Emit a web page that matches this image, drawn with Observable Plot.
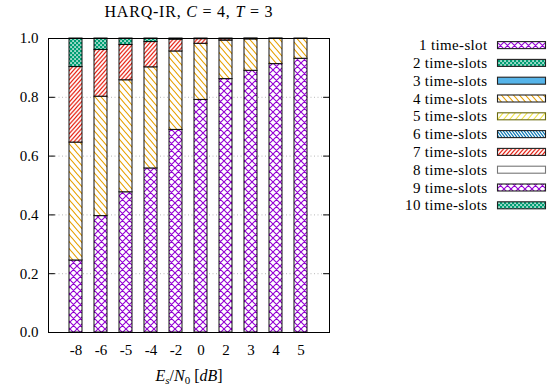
<!DOCTYPE html>
<html><head><meta charset="utf-8">
<script src="https://cdn.jsdelivr.net/npm/d3@7"></script>
<script src="https://cdn.jsdelivr.net/npm/@observablehq/plot@0.6"></script>
<style>
html,body{margin:0;padding:0;background:#fff;}
#wrap{position:relative;width:557px;height:390px;overflow:hidden;background:#fff;}
#wrap svg{position:absolute;left:0;top:0;}
</style></head>
<body><div id="wrap"></div>
<script>
// ---- data ----
const snr = ["-8","-6","-5","-4","-2","0","2","3","4","5"];
const seriesNames = ["1 time-slot","2 time-slots","3 time-slots","4 time-slots","5 time-slots",
  "6 time-slots","7 time-slots","8 time-slots","9 time-slots","10 time-slots"];
const slot1  = [0.245,0.396,0.477,0.558,0.689,0.791,0.862,0.890,0.913,0.931];
const slot2  = [0,0,0,0,0,0,0,0,0,0];
const slot3  = [0,0,0,0,0,0,0,0,0,0];
const slot4  = [0.401,0.406,0.381,0.344,0.267,0.191,0.131,0.107,0.086,0.069];
const slot5  = [0,0,0,0,0,0,0,0,0,0];
const slot6  = [0,0,0,0,0,0,0,0,0,0];
const slot7  = [0.257,0.159,0.120,0.086,0.040,0.016,0.005,0.002,0.001,0];
const slot8  = [0,0,0,0,0,0,0,0,0,0];
const slot9  = [0,0,0,0,0,0,0,0,0,0];
const slot10 = [0.097,0.039,0.022,0.012,0.004,0.002,0.002,0.001,0,0];
const yTicks = [0,0.2,0.4,0.6,0.8,1.0];

// ---- styles ----
const fills = ["url(#pXP)","url(#pCG)","#56b4e9","url(#pBO)","url(#pFY)",
  "url(#pBB)","url(#pFR)","white","url(#pXP)","url(#pCG)"];
const legendStroke = ["#222","#222","#222","#222","#6b6b10","#222","#222","#777","#222","#222"];
const FONT = "'Liberation Serif','Times New Roman',serif";

const seriesValues = [slot1,slot2,slot3,slot4,slot5,slot6,slot7,slot8,slot9,slot10];
const table = [];
snr.forEach((s, i) => seriesValues.forEach((vals, k) => {
  if (vals[i] > 0) table.push({snr: s, series: seriesNames[k], value: vals[i]});
}));

function hatch(id, w, h, color, sw, dir) {
  let d;
  if (dir === "back") d = `M${-w},${-h}L${2*w},${2*h}M${-w},0L${w},${2*h}M0,${-h}L${2*w},${h}`;
  else d = `M${-w},${2*h}L${2*w},${-h}M${-w},${h}L${w},${-h}M0,${2*h}L${2*w},0`;
  return `<pattern id="${id}" patternUnits="userSpaceOnUse" width="${w}" height="${h}">
    <rect width="${w}" height="${h}" fill="white"/>
    <path d="${d}" stroke="${color}" stroke-width="${sw}" fill="none"/></pattern>`;
}
const defs = `<svg width="0" height="0" style="position:absolute;left:0;top:0"><defs>
<pattern id="pXP" patternUnits="userSpaceOnUse" width="7" height="7">
  <rect width="7" height="7" fill="white"/>
  <path d="M-7,-7L14,14M-7,0L7,14M0,-7L14,7M-7,14L14,-7M-7,7L7,-7M0,14L14,0" stroke="#9400d3" stroke-width="1.1" fill="none"/>
</pattern>
<pattern id="pCG" patternUnits="userSpaceOnUse" width="4" height="4">
  <rect width="4" height="4" fill="#009e73"/>
  <rect x="0.3" y="0.3" width="1.5" height="1.5" fill="white"/>
  <rect x="2.3" y="2.3" width="1.5" height="1.5" fill="white"/>
</pattern>
${hatch("pBO", 6, 7, "#e69f00", 1.1, "back")}
${hatch("pFY", 6, 7, "#f0e442", 1.1, "fwd")}
${hatch("pBB", 3, 4, "#0072b2", 1.1, "back")}
${hatch("pFR", 4, 4.5, "#e51e10", 1.2, "fwd")}
</defs></svg>`;

const wrap = document.getElementById("wrap");
wrap.insertAdjacentHTML("beforeend", defs);

const tickShape = {draw(context, l) { context.moveTo(0, 0); context.lineTo(0, -l); }};
const innerTicks = yTicks.slice(1, -1);

const chart = Plot.plot({
  width: 557, height: 390,
  marginLeft: 48, marginRight: 228, marginTop: 38, marginBottom: 58,
  style: {fontFamily: FONT, fontSize: "15px", background: "transparent", color: "black"},
  x: {type: "band", domain: snr, paddingInner: 0.47, paddingOuter: 0.76},
  y: {domain: [0, 1]},
  color: {type: "ordinal", domain: seriesNames, range: fills},
  marks: [
    Plot.gridY(innerTicks, {stroke: "#b8b8b8", strokeOpacity: 1, strokeDasharray: "1,2.5"}),
    Plot.barY(table, {x: "snr", y: "value", fill: "series", order: seriesNames,
      stroke: "black", strokeWidth: 1.1, strokeOpacity: 0.85}),
    Plot.frame({stroke: "black", strokeWidth: 1}),
    Plot.vector(innerTicks, {y: d => d, frameAnchor: "left", rotate: 90, length: 6,
      anchor: "start", shape: tickShape, stroke: "black", strokeWidth: 1}),
    Plot.vector(innerTicks, {y: d => d, frameAnchor: "right", rotate: -90, length: 6,
      anchor: "start", shape: tickShape, stroke: "black", strokeWidth: 1}),
    Plot.axisY(yTicks, {anchor: "left", tickSize: 0, tickPadding: 10, tickFormat: d3.format(".1f"), label: null, fontSize: 15}),
    Plot.axisX(snr, {tickSize: 0, tickPadding: 12, label: null, fontSize: 15})
  ]
});
wrap.appendChild(chart);

// ---- overlay: title, x label, legend ----
const ov = d3.select(wrap).append("svg")
  .attr("width", 557).attr("height", 390)
  .style("font-family", FONT).style("overflow", "visible");

const t = ov.append("text").attr("x", 188.5).attr("y", 16.5)
  .attr("text-anchor", "middle").attr("font-size", 16)
  .attr("textLength", 168).attr("lengthAdjust", "spacing");
t.append("tspan").text("HARQ-IR, ");
t.append("tspan").attr("font-style", "italic").text("C");
t.append("tspan").text(" = 4, ");
t.append("tspan").attr("font-style", "italic").text("T");
t.append("tspan").text(" = 3");

const xl = ov.append("text").attr("x", 189).attr("y", 381)
  .attr("text-anchor", "middle").attr("font-size", 16);
xl.append("tspan").attr("font-style", "italic").text("E");
xl.append("tspan").attr("font-style", "italic").attr("font-size", 11).attr("dy", 3).text("s");
xl.append("tspan").attr("dy", -3).text("/");
xl.append("tspan").attr("font-style", "italic").text("N");
xl.append("tspan").attr("font-size", 11).attr("dy", 3).text("0");
xl.append("tspan").attr("dy", -3).text(" [");
xl.append("tspan").attr("font-style", "italic").text("dB");
xl.append("tspan").text("]");

const lg = ov.append("g");
seriesNames.forEach((name, i) => {
  const cy = 45.1 + 17.8 * i;
  lg.append("text").attr("x", 487.5).attr("y", cy + 5)
    .attr("text-anchor", "end").attr("font-size", 15).attr("letter-spacing", "0.35px")
    .text(name);
  lg.append("rect").attr("x", 497.5).attr("y", cy - 3.5).attr("width", 48).attr("height", 7)
    .attr("fill", fills[i]).attr("stroke", legendStroke[i]).attr("stroke-width", 1.1);
});
</script>
</body></html>
